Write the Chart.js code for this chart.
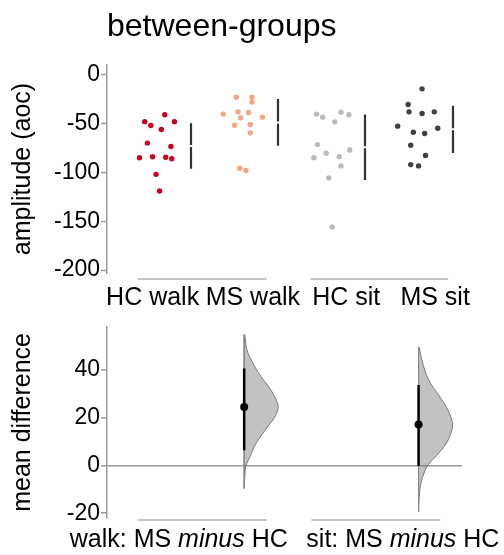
<!DOCTYPE html>
<html>
<head>
<meta charset="utf-8">
<script src="https://cdn.jsdelivr.net/npm/chart.js@4.4.0/dist/chart.umd.min.js"></script>
<style>
  body { margin: 0; background: #fff; }
  #wrap { position: relative; width: 504px; height: 555px; }
  #top { position: absolute; left: 0; top: 0; }
  #bottom { position: absolute; left: 0; top: 312px; }
</style>
</head>
<body>
<div id="wrap">
  <canvas id="top" width="504" height="312"></canvas>
  <canvas id="bottom" width="504" height="243"></canvas>
</div>
<script>
const groups = ['HC walk', 'MS walk', 'HC sit', 'MS sit'];
const hcWalk = [-41, -48, -48, -52, -56, -70, -73.5, -85, -84, -84.5, -86, -102, -119];
const msWalk = [-23, -23, -28, -38, -38.6, -40.3, -44, -43.4, -51.6, -51, -59.5, -95.7, -98];
const hcSit = [-40.3, -43.4, -38.3, -41, -48.2, -71.5, -77, -80.3, -85, -84, -93.3, -105.6, -156];
const msSit = [-14.4, -30.4, -38, -39.7, -38, -52.6, -54.7, -58.8, -60.2, -72.1, -82.7, -92, -93.3];

// swarm jitter (category units)
const hcWalkJitter = [0.09, -0.14, 0.2, -0.07, 0.05, -0.11, 0.16, -0.2, -0.05, 0.1, 0.17, -0.01, 0.03];
const msWalkJitter = [-0.09, 0.09, 0.09, -0.07, 0.05, -0.24, -0.04, 0.21, -0.11, 0.07, 0.07, -0.05, 0.02];
const hcSitJitter = [-0.17, -0.1, 0.11, 0.2, 0.04, -0.16, 0.21, -0.06, -0.2, 0.09, 0.11, -0.03, 0.01];
const msSitJitter = [0.04, -0.12, -0.11, 0.04, 0.18, -0.24, 0.22, -0.06, 0.07, -0.09, 0.08, -0.09, 0.0];

// effect sizes
const comparisons = ['walk', 'sit'];
const meanDiff = [24.4, 17.1];
const ciLow = [6.3, -0.2];
const ciHigh = [40.6, 33.6];

// bootstrap distribution outlines: value levels and relative density
const walkLevels = [54.8, 54.4, 48.5, 43.2, 37.3, 32.7, 28.1, 24.5, 20.8, 16.9, 12.3, 7.7, 3.0, -0.2, -4.2, -9.6];
const walkDensity = [0, 0.02, 0.08, 0.24, 0.49, 0.73, 0.92, 1.0, 0.92, 0.73, 0.49, 0.29, 0.15, 0.05, 0.02, 0];
const sitLevels = [49.6, 49.2, 43.9, 36.0, 29.4, 24.1, 18.9, 16.9, 14.9, 9.6, 4.3, 0.4, -3.6, -7.5, -12.8, -19.4];
const sitDensity = [0, 0.02, 0.1, 0.29, 0.59, 0.83, 0.98, 1.0, 0.98, 0.83, 0.54, 0.29, 0.15, 0.07, 0.02, 0];

// tick labels
const amplitudeTicks = [0, -50, -100, -150, -200];
const diffTicks = [40, 20, 0, -20];

// layout
const groupData = [hcWalk, msWalk, hcSit, msSit];
const groupJitter = [hcWalkJitter, msWalkJitter, hcSitJitter, msSitJitter];
const groupColors = ['#ca0020', '#f4a582', '#bababa', '#404040'];
const xMin = -0.573, xMax = 3.498;
const barOffset = 0.39;
const violinWidth = 0.39;
const testIndex = [1, 3];
const groupTickPos = [-0.05, 1.1, 2.17, 3.19];
const diffLabelPos = [0.25, 2.82];
const fontFamily = '"Liberation Sans", Arial, sans-serif';

Chart.defaults.font.family = fontFamily;
Chart.defaults.color = '#000';

function mean(a) {
  return a.reduce((s, v) => s + v, 0) / a.length;
}
function sd(a) {
  const m = mean(a);
  return Math.sqrt(a.reduce((s, v) => s + (v - m) * (v - m), 0) / (a.length - 1));
}

function spines(id, offset, ranges) {
  return {
    id: id,
    afterDraw(chart) {
      const { ctx, chartArea, scales: { x } } = chart;
      const yy = chartArea.bottom + offset;
      ctx.save();
      ctx.strokeStyle = '#b3b3b3';
      ctx.lineWidth = 1.5;
      ranges.forEach(r => {
        ctx.beginPath();
        ctx.moveTo(x.getPixelForValue(r[0]), yy);
        ctx.lineTo(x.getPixelForValue(r[1]), yy);
        ctx.stroke();
      });
      ctx.restore();
    }
  };
}

// mean +/- sd with a small gap at the mean
const errorBars = {
  id: 'errorBars',
  afterDatasetsDraw(chart) {
    const { ctx, scales: { x, y } } = chart;
    ctx.save();
    ctx.strokeStyle = '#333';
    ctx.lineWidth = 2.2;
    groupData.forEach((vals, i) => {
      const m = mean(vals), s = sd(vals);
      const px = Math.round(x.getPixelForValue(i + barOffset));
      const yMid = y.getPixelForValue(m);
      ctx.beginPath();
      ctx.moveTo(px, y.getPixelForValue(m + s));
      ctx.lineTo(px, yMid - 1);
      ctx.moveTo(px, yMid + 1);
      ctx.lineTo(px, y.getPixelForValue(m - s));
      ctx.stroke();
    });
    ctx.restore();
  }
};

const diffLabels = {
  id: 'diffLabels',
  afterDraw(chart) {
    const { ctx, chartArea, scales: { x } } = chart;
    ctx.save();
    ctx.fillStyle = '#000';
    ctx.textBaseline = 'alphabetic';
    comparisons.forEach((name, i) => {
      const parts = [[name + ': MS ', ''], ['minus', 'italic '], [' HC', '']];
      let total = 0;
      parts.forEach(p => {
        ctx.font = p[1] + '25px ' + fontFamily;
        total += ctx.measureText(p[0]).width;
      });
      let px = x.getPixelForValue(diffLabelPos[i]) - total / 2;
      parts.forEach(p => {
        ctx.font = p[1] + '25px ' + fontFamily;
        ctx.fillText(p[0], px, chartArea.bottom + 29);
        px += ctx.measureText(p[0]).width;
      });
    });
    ctx.restore();
  }
};

new Chart(document.getElementById('top'), {
  type: 'scatter',
  data: {
    datasets: groupData.map((vals, g) => ({
      label: groups[g],
      data: vals.map((v, i) => ({ x: g + groupJitter[g][i], y: v })),
      backgroundColor: groupColors[g],
      borderWidth: 0,
      pointRadius: 2.7
    }))
  },
  options: {
    responsive: false,
    animation: false,
    layout: { padding: { left: 0, right: 42, top: 0, bottom: 0 } },
    plugins: {
      legend: { display: false },
      tooltip: { enabled: false },
      title: {
        display: true,
        text: 'between-groups',
        align: 'start',
        fullSize: false,
        font: { size: 32, weight: 'normal' },
        color: '#000',
        padding: { top: 8, bottom: 18.6 }
      }
    },
    scales: {
      x: {
        type: 'linear',
        min: xMin,
        max: xMax,
        afterBuildTicks(s) { s.ticks = groupTickPos.map(v => ({ value: v })); },
        afterFit(s) { s.paddingLeft = 0; s.paddingRight = 0; s.height = 39; },
        border: { display: false },
        grid: { display: false, drawTicks: false },
        ticks: {
          callback: (v, i) => groups[i],
          font: { size: 25 },
          padding: 10,
          maxRotation: 0,
          autoSkip: false
        }
      },
      y: {
        min: -203,
        max: 10,
        afterBuildTicks(s) { s.ticks = amplitudeTicks.map(v => ({ value: v })); },
        afterFit(s) { s.width = 107; },
        border: { color: '#999', width: 1.5 },
        grid: { drawOnChartArea: false, tickLength: 6, tickColor: '#999', tickWidth: 1.5 },
        ticks: { padding: 1, font: { size: 23 } },
        title: { display: true, text: 'amplitude (aoc)', font: { size: 25 }, padding: { top: 8, bottom: 0 } }
      }
    }
  },
  plugins: [errorBars, spines('topSpines', 6, [[-0.22, 1.26], [1.76, 3.34]])]
});

const violinSets = [[walkLevels, walkDensity], [sitLevels, sitDensity]];
const diffDatasets = [];
testIndex.forEach((pos, c) => {
  const [levels, dens] = violinSets[c];
  diffDatasets.push({
    type: 'scatter',
    data: [{ x: pos, y: meanDiff[c] }],
    backgroundColor: '#000',
    borderWidth: 0,
    pointRadius: 4,
    order: 0
  });
  diffDatasets.push({
    type: 'line',
    data: [{ x: pos, y: ciLow[c] }, { x: pos, y: ciHigh[c] }],
    borderColor: '#000',
    borderWidth: 2.5,
    pointRadius: 0,
    order: 1
  });
  diffDatasets.push({
    type: 'line',
    data: [{ x: pos, y: levels[0] }, { x: pos, y: levels[levels.length - 1] }],
    borderColor: '#888',
    borderWidth: 1,
    pointRadius: 0,
    order: 2
  });
  diffDatasets.push({
    type: 'line',
    data: levels.map((v, i) => ({ x: pos + violinWidth * dens[i], y: v })),
    borderColor: '#777',
    borderWidth: 1,
    backgroundColor: 'rgba(120,120,120,0.45)',
    fill: 'shape',
    tension: 0.4,
    pointRadius: 0,
    order: 3
  });
});

new Chart(document.getElementById('bottom'), {
  type: 'line',
  data: { datasets: diffDatasets },
  options: {
    responsive: false,
    animation: false,
    layout: { padding: { left: 0, right: 42, top: 4, bottom: 0 } },
    plugins: { legend: { display: false }, tooltip: { enabled: false } },
    scales: {
      x: {
        type: 'linear',
        min: xMin,
        max: xMax,
        afterFit(s) { s.paddingLeft = 0; s.paddingRight = 0; s.height = 37; },
        border: { display: false },
        grid: { display: false, drawTicks: false },
        ticks: { display: false }
      },
      y: {
        min: -22,
        max: 58,
        afterBuildTicks(s) { s.ticks = diffTicks.map(v => ({ value: v })); },
        afterFit(s) { s.width = 107; },
        border: { color: '#999', width: 1.5 },
        grid: {
          color: c => (c.tick && c.tick.value === 0 ? '#999' : 'rgba(0,0,0,0)'),
          lineWidth: 1.5,
          tickLength: 6,
          tickColor: '#999',
          tickWidth: 1.5
        },
        ticks: { padding: 1, font: { size: 23 } },
        title: { display: true, text: 'mean difference', font: { size: 25 }, padding: { top: 8, bottom: 0 } }
      }
    }
  },
  plugins: [diffLabels, spines('bottomSpines', 2, [[-0.22, 1.26], [1.77, 3.25]])]
});
</script>
</body>
</html>
